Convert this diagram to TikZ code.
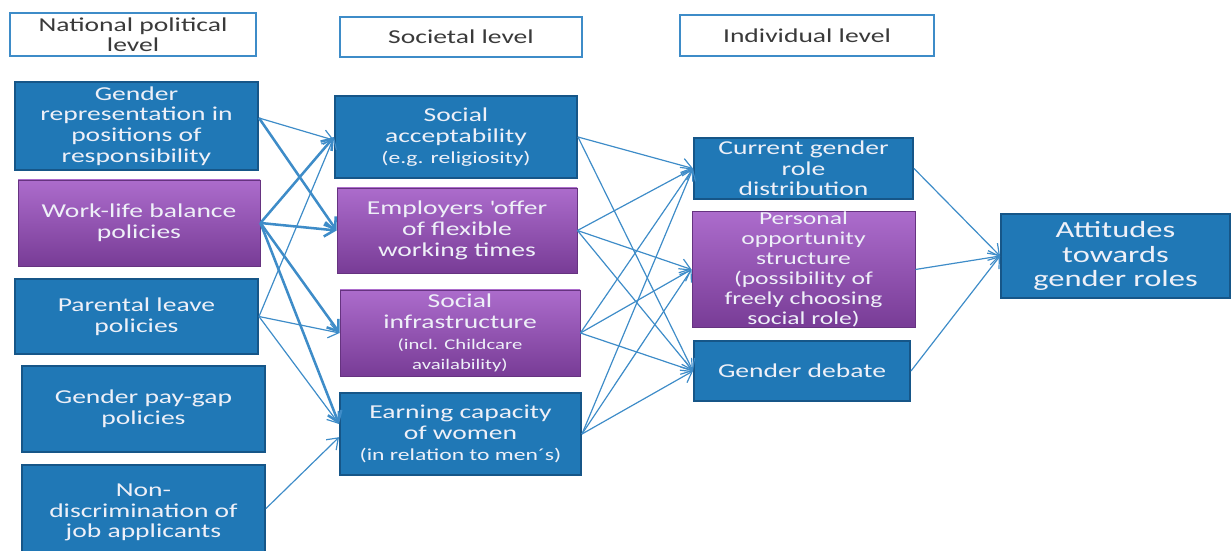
\documentclass[tikz,border=0pt]{standalone}
\usepackage{fontspec}
\setmainfont[FakeStretch=1.4]{Carlito}
\usetikzlibrary{arrows.meta}

\definecolor{boxblue}{RGB}{32,120,182}
\definecolor{boxedge}{RGB}{22,86,136}
\definecolor{purptop}{RGB}{172,108,204}
\definecolor{purpbot}{RGB}{120,60,150}
\definecolor{linkblue}{RGB}{62,140,200}
\definecolor{headtext}{RGB}{58,58,58}
\definecolor{boxtext}{RGB}{238,240,248}

\tikzset{
  boxsize/.style 2 args={minimum width=#1*0.025cm, minimum height=#2*0.025cm},
  levelbox/.style={draw=linkblue, line width=1.8pt, fill=white, text=headtext,
    align=center, inner sep=0pt, font=\fontsize{14}{14.5}\selectfont},
  bluebox/.style={draw=boxedge, line width=1.4pt, fill=boxblue, text=boxtext,
    align=center, inner sep=0pt, font=\fontsize{14}{14.8}\selectfont},
  purplebox/.style={draw=purpbot!85!black, line width=0.6pt, top color=purptop,
    bottom color=purpbot, text=boxtext, align=center, inner sep=0pt,
    font=\fontsize{14}{14.8}\selectfont},
  link/.style={draw=linkblue, line width=0.85pt,
    -{Straight Barb[length=2.5mm,width=3.6mm]}},
  thicklink/.style={link, line width=1.8pt},
}
\newcommand{\smalltxt}{\fontsize{12}{13}\selectfont}

\begin{document}
\begin{tikzpicture}[x=0.025cm,y=-0.025cm]
\clip (0,0) rectangle (1232,551);

% level headings
\node[levelbox, boxsize={246}{43}] (national) at (133,34.5) {National political\\level};
\node[levelbox, boxsize={242}{40}] (societal) at (461,37) {Societal level};
\node[levelbox, boxsize={254}{41}] (individual) at (807,35.5) {Individual level};

% national political level
\node[bluebox, boxsize={243}{88}] (genrep) at (136.5,126) {Gender\\representation in\\positions of\\responsibility};
\node[purplebox, boxsize={242}{86}] (worklife) at (139,223) {Work-life balance\\policies};
\node[bluebox, boxsize={243}{75}] (parental) at (136.5,316.5) {Parental leave\\policies};
\node[bluebox, boxsize={243}{86}] (paygap) at (143.5,409) {Gender pay-gap\\policies};
\node[bluebox, boxsize={243}{95}] (nondisc) at (143.5,512.5) {Non-\\discrimination of\\job applicants};

% societal level
\node[bluebox, boxsize={242}{82}] (socacc) at (456,137) {Social\\acceptability\\{\smalltxt (e.g. religiosity)}};
\node[purplebox, boxsize={240}{85}] (employ) at (457,230.5) {Employers \textquotesingle offer\\of flexible\\working times};
\node[purplebox, boxsize={240}{86}] (infra) at (460,333) {Social\\infrastructure\\{\fontsize{10.5}{10.5}\selectfont (incl. Childcare}\\{\fontsize{10.5}{10.5}\selectfont availability)}};
\node[bluebox, boxsize={241}{82}] (earn) at (460.5,434) {Earning capacity\\of women\\{\smalltxt (in relation to men´s)}};

% individual level
\node[bluebox, boxsize={219}{61}, font=\fontsize{14}{14.5}\selectfont] (current) at (803.5,168.5) {Current gender\\role\\distribution};
\node[purplebox, boxsize={223}{113}, font=\fontsize{13}{14.3}\selectfont] (personal) at (803.5,269.5) {Personal\\opportunity\\structure\\(possibility of\\freely choosing\\social role)};
\node[bluebox, boxsize={216}{60}] (debate) at (802,371) {Gender debate};

% outcome
\node[bluebox, boxsize={229}{84}, font=\fontsize{16.5}{17.4}\selectfont] (attitudes) at (1115.5,256) {Attitudes\\towards\\gender roles};

% national -> societal
\draw[link] ([yshift=2mm]genrep.east) -- ([yshift=-0.8mm]socacc.west);
\draw[thicklink] ([yshift=2mm]genrep.east) -- (employ.west);
\foreach \t in {socacc,employ,infra}
  \draw[thicklink] (worklife.east) -- (\t.west);
\draw[thicklink] (worklife.east) -- ([yshift=2.5mm]earn.west);
\foreach \t in {socacc,infra}
  \draw[link] (parental.east) -- (\t.west);
\draw[link] (parental.east) -- ([yshift=2.5mm]earn.west);
\draw[link] ([yshift=1mm]nondisc.east) -- ([yshift=-0.8mm]earn.west);

% societal -> individual
\foreach \s/\t in {socacc/current,socacc/debate,employ/current,employ/personal,
    employ/debate,infra/current,infra/personal,infra/debate,earn/current,
    earn/personal,earn/debate}
  \draw[link] (\s.east) -- (\t.west);

% individual -> attitudes
\foreach \s in {current,personal,debate}
  \draw[link] (\s.east) -- (attitudes.west);
\end{tikzpicture}
\end{document}
